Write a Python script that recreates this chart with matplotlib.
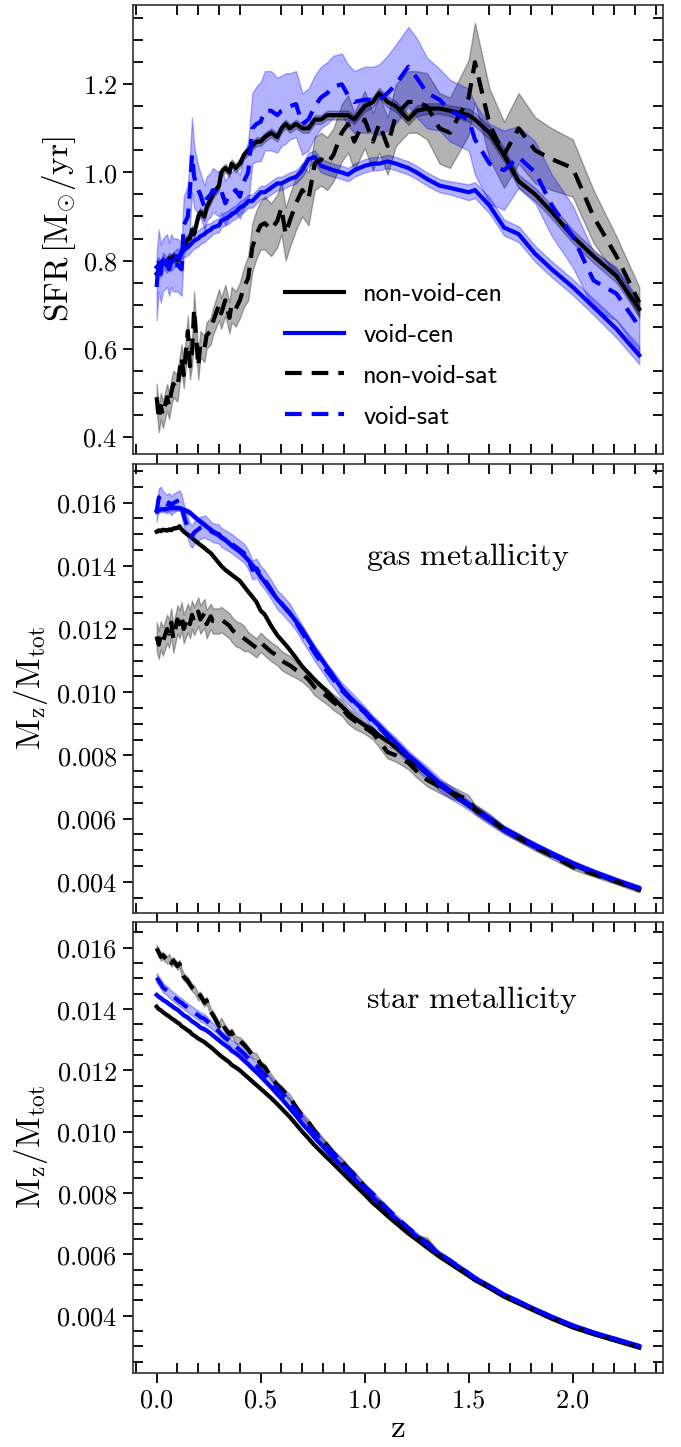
import numpy as np
import matplotlib
matplotlib.use('Agg')
import matplotlib.pyplot as plt
from matplotlib.ticker import MultipleLocator, FuncFormatter

plt.rcParams['mathtext.fontset'] = 'cm'

# ---------------- data ----------------
z = [0.00, 0.01, 0.02, 0.03, 0.05, 0.06, 0.07, 0.08, 0.10, 0.11,
     0.12, 0.13, 0.15, 0.16, 0.17, 0.18, 0.20, 0.21, 0.23, 0.24,
     0.26, 0.27, 0.30, 0.31, 0.33, 0.35, 0.36, 0.38, 0.40, 0.42,
     0.44, 0.46, 0.48, 0.50, 0.52, 0.55, 0.58, 0.60, 0.62, 0.64,
     0.67, 0.70, 0.73, 0.76, 0.79, 0.82, 0.85, 0.89, 0.92, 0.95,
     1.00, 1.04, 1.07, 1.11, 1.15, 1.21, 1.25, 1.30, 1.36, 1.41,
     1.50, 1.53, 1.60, 1.67, 1.74, 1.82, 1.90, 2.00, 2.10, 2.21, 2.32]

labels = ['non-void-cen', 'void-cen', 'non-void-sat', 'void-sat']

# SFR panel
sfr_nv_cen = [0.770, 0.775, 0.790, 0.800, 0.790, 0.805, 0.800, 0.810, 0.800, 0.810,
              0.820, 0.830, 0.850, 0.850, 0.870, 0.860, 0.900, 0.910, 0.900, 0.920,
              0.940, 0.950, 0.970, 1.000, 1.010, 1.000, 1.020, 1.010, 1.020, 1.040,
              1.050, 1.060, 1.070, 1.070, 1.080, 1.090, 1.080, 1.100, 1.110, 1.100,
              1.110, 1.100, 1.100, 1.120, 1.120, 1.130, 1.130, 1.130, 1.130, 1.120,
              1.150, 1.160, 1.180, 1.160, 1.150, 1.120, 1.140, 1.145, 1.145, 1.140,
              1.130, 1.120, 1.090, 1.040, 0.980, 0.950, 0.910, 0.855, 0.810, 0.765, 0.690]
sfr_v_cen = [0.785, 0.790, 0.780, 0.800, 0.790, 0.800, 0.795, 0.800, 0.810, 0.805,
             0.820, 0.825, 0.830, 0.835, 0.840, 0.845, 0.850, 0.855, 0.860, 0.865,
             0.870, 0.875, 0.880, 0.890, 0.895, 0.900, 0.905, 0.910, 0.920, 0.925,
             0.935, 0.935, 0.945, 0.955, 0.955, 0.965, 0.975, 0.975, 0.980, 0.985,
             0.990, 1.005, 1.030, 1.035, 1.015, 1.010, 1.005, 1.000, 0.995, 1.005,
             1.015, 1.020, 1.020, 1.025, 1.020, 1.010, 1.000, 0.985, 0.970, 0.965,
             0.955, 0.960, 0.925, 0.875, 0.860, 0.815, 0.780, 0.740, 0.695, 0.645, 0.585]
sfr_nv_sat = [0.490, 0.440, 0.470, 0.450, 0.490, 0.470, 0.500, 0.520, 0.510, 0.550,
              0.580, 0.540, 0.640, 0.560, 0.590, 0.690, 0.560, 0.610, 0.600, 0.630,
              0.640, 0.660, 0.700, 0.680, 0.710, 0.670, 0.700, 0.690, 0.710, 0.740,
              0.760, 0.830, 0.860, 0.880, 0.885, 0.870, 0.890, 0.920, 0.860, 0.890,
              0.930, 0.960, 0.940, 1.020, 1.030, 1.020, 1.040, 1.090, 1.110, 1.070,
              1.120, 1.070, 1.110, 1.060, 1.130, 1.160, 1.160, 1.150, 1.100, 1.090,
              1.170, 1.250, 1.110, 1.040, 1.100, 1.050, 1.030, 1.010, 0.900, 0.810, 0.705]
sfr_v_sat = [0.740, 0.800, 0.770, 0.790, 0.800, 0.780, 0.800, 0.790, 0.790, 0.785,
             0.780, 0.880, 0.900, 0.960, 1.040, 0.990, 0.960, 0.950, 0.920, 0.940,
             0.950, 0.960, 0.950, 0.960, 0.930, 0.950, 0.950, 0.960, 0.945, 0.980,
             1.000, 1.100, 1.110, 1.115, 1.140, 1.140, 1.130, 1.140, 1.145, 1.150,
             1.155, 1.110, 1.120, 1.150, 1.170, 1.180, 1.195, 1.200, 1.175, 1.160,
             1.165, 1.165, 1.165, 1.180, 1.200, 1.240, 1.215, 1.180, 1.165, 1.140,
             1.120, 1.075, 1.020, 1.005, 1.035, 1.000, 0.925, 0.855, 0.755, 0.725, 0.650]

err_sfr_nv_cen = [0.010, 0.010, 0.010, 0.010, 0.010, 0.010, 0.010, 0.010, 0.010, 0.010,
                  0.010, 0.010, 0.010, 0.010, 0.010, 0.010, 0.010, 0.010, 0.010, 0.010,
                  0.010, 0.010, 0.010, 0.010, 0.010, 0.010, 0.010, 0.010, 0.010, 0.010,
                  0.010, 0.010, 0.010, 0.010, 0.010, 0.010, 0.010, 0.010, 0.010, 0.010,
                  0.010, 0.010, 0.010, 0.010, 0.010, 0.010, 0.010, 0.010, 0.010, 0.010,
                  0.012, 0.012, 0.012, 0.012, 0.012, 0.012, 0.012, 0.012, 0.012, 0.012,
                  0.015, 0.015, 0.015, 0.015, 0.015, 0.015, 0.015, 0.015, 0.015, 0.015, 0.015]
err_sfr_v_cen = [0.018, 0.018, 0.018, 0.018, 0.018, 0.018, 0.018, 0.018, 0.018, 0.018,
                 0.018, 0.018, 0.018, 0.018, 0.018, 0.018, 0.018, 0.018, 0.018, 0.018,
                 0.015, 0.015, 0.015, 0.015, 0.015, 0.015, 0.015, 0.015, 0.015, 0.015,
                 0.015, 0.015, 0.015, 0.015, 0.015, 0.015, 0.015, 0.015, 0.015, 0.015,
                 0.015, 0.015, 0.015, 0.015, 0.015, 0.015, 0.015, 0.015, 0.015, 0.015,
                 0.015, 0.015, 0.015, 0.015, 0.015, 0.015, 0.015, 0.015, 0.015, 0.015,
                 0.018, 0.018, 0.018, 0.018, 0.018, 0.018, 0.018, 0.018, 0.018, 0.020, 0.020]
err_sfr_nv_sat = [0.030, 0.030, 0.030, 0.030, 0.030, 0.030, 0.030, 0.030, 0.030, 0.030,
                  0.030, 0.030, 0.035, 0.030, 0.030, 0.040, 0.030, 0.030, 0.030, 0.030,
                  0.030, 0.030, 0.035, 0.035, 0.035, 0.035, 0.040, 0.040, 0.040, 0.045,
                  0.050, 0.055, 0.055, 0.055, 0.060, 0.060, 0.060, 0.060, 0.060, 0.060,
                  0.060, 0.060, 0.060, 0.060, 0.060, 0.060, 0.060, 0.065, 0.065, 0.065,
                  0.065, 0.065, 0.065, 0.065, 0.070, 0.070, 0.070, 0.075, 0.080, 0.080,
                  0.085, 0.090, 0.080, 0.075, 0.080, 0.075, 0.070, 0.065, 0.060, 0.045, 0.035]
err_sfr_v_sat = [0.075, 0.070, 0.065, 0.060, 0.060, 0.060, 0.060, 0.060, 0.060, 0.060,
                 0.060, 0.065, 0.070, 0.080, 0.085, 0.070, 0.055, 0.050, 0.050, 0.050,
                 0.050, 0.050, 0.050, 0.050, 0.050, 0.050, 0.050, 0.050, 0.050, 0.060,
                 0.070, 0.080, 0.085, 0.090, 0.090, 0.090, 0.085, 0.080, 0.080, 0.075,
                 0.075, 0.070, 0.070, 0.070, 0.070, 0.070, 0.070, 0.070, 0.070, 0.070,
                 0.075, 0.075, 0.080, 0.085, 0.090, 0.090, 0.090, 0.080, 0.070, 0.070,
                 0.070, 0.080, 0.090, 0.090, 0.070, 0.070, 0.070, 0.070, 0.065, 0.060, 0.060]

# gas metallicity panel
gas_nv_cen = [0.01508, 0.01512, 0.01510, 0.01514, 0.01512, 0.01515, 0.01513, 0.01518, 0.01520, 0.01525,
              0.01515, 0.01508, 0.01498, 0.01494, 0.01488, 0.01482, 0.01471, 0.01466, 0.01456, 0.01450,
              0.01440, 0.01432, 0.01408, 0.01400, 0.01387, 0.01377, 0.01372, 0.01362, 0.01352, 0.01335,
              0.01318, 0.01302, 0.01285, 0.01258, 0.01245, 0.01210, 0.01180, 0.01165, 0.01150, 0.01134,
              0.01108, 0.01081, 0.01060, 0.01039, 0.01020, 0.01002, 0.00980, 0.00955, 0.00935, 0.00918,
              0.00895, 0.00880, 0.00862, 0.00845, 0.00825, 0.00792, 0.00770, 0.00742, 0.00706, 0.00683,
              0.00640, 0.00627, 0.00596, 0.00564, 0.00538, 0.00511, 0.00486, 0.00455, 0.00428, 0.00401, 0.00376]
gas_v_cen = [0.01572, 0.01575, 0.01578, 0.01578, 0.01580, 0.01582, 0.01582, 0.01583, 0.01583, 0.01582,
             0.01580, 0.01577, 0.01572, 0.01568, 0.01562, 0.01556, 0.01545, 0.01540, 0.01530, 0.01524,
             0.01514, 0.01509, 0.01496, 0.01490, 0.01482, 0.01470, 0.01464, 0.01455, 0.01445, 0.01432,
             0.01418, 0.01402, 0.01385, 0.01365, 0.01348, 0.01320, 0.01294, 0.01280, 0.01265, 0.01250,
             0.01224, 0.01197, 0.01165, 0.01134, 0.01106, 0.01078, 0.01050, 0.01012, 0.00990, 0.00970,
             0.00940, 0.00912, 0.00893, 0.00866, 0.00840, 0.00800, 0.00778, 0.00748, 0.00712, 0.00688,
             0.00645, 0.00632, 0.00600, 0.00568, 0.00543, 0.00516, 0.00490, 0.00459, 0.00432, 0.00405, 0.00380]
gas_nv_sat = [0.01176, 0.01150, 0.01180, 0.01160, 0.01200, 0.01185, 0.01220, 0.01170, 0.01230, 0.01215,
              0.01240, 0.01200, 0.01235, 0.01215, 0.01245, 0.01225, 0.01255, 0.01230, 0.01250, 0.01215,
              0.01240, 0.01225, 0.01225, 0.01230, 0.01220, 0.01210, 0.01200, 0.01185, 0.01180, 0.01170,
              0.01160, 0.01150, 0.01140, 0.01158, 0.01145, 0.01128, 0.01115, 0.01100, 0.01092, 0.01085,
              0.01070, 0.01058, 0.01040, 0.01015, 0.01000, 0.00986, 0.00968, 0.00950, 0.00925, 0.00910,
              0.00888, 0.00870, 0.00845, 0.00810, 0.00800, 0.00776, 0.00750, 0.00722, 0.00701, 0.00685,
              0.00659, 0.00630, 0.00600, 0.00565, 0.00540, 0.00508, 0.00482, 0.00447, 0.00424, 0.00400, 0.00374]
gas_v_sat = [0.01570, 0.01615, 0.01620, 0.01605, 0.01595, 0.01600, 0.01590, 0.01598, 0.01605, 0.01608,
             0.01590, 0.01560, 0.01520, 0.01500, 0.01492, 0.01505, 0.01515, 0.01520, 0.01524, 0.01520,
             0.01510, 0.01505, 0.01500, 0.01490, 0.01482, 0.01475, 0.01470, 0.01460, 0.01450, 0.01440,
             0.01420, 0.01387, 0.01392, 0.01370, 0.01355, 0.01325, 0.01292, 0.01280, 0.01265, 0.01250,
             0.01220, 0.01187, 0.01155, 0.01124, 0.01095, 0.01065, 0.01040, 0.01005, 0.00985, 0.00965,
             0.00935, 0.00905, 0.00888, 0.00860, 0.00836, 0.00795, 0.00772, 0.00745, 0.00708, 0.00684,
             0.00642, 0.00628, 0.00596, 0.00564, 0.00540, 0.00512, 0.00487, 0.00456, 0.00430, 0.00403, 0.00379]

err_gas_nv_cen = [0.00005] * 71
err_gas_v_cen = [0.00008] * 71
err_gas_nv_sat = [0.00045, 0.00045, 0.00045, 0.00045, 0.00045, 0.00045, 0.00045, 0.00045, 0.00045, 0.00045,
                  0.00045, 0.00045, 0.00045, 0.00045, 0.00045, 0.00045, 0.00045, 0.00045, 0.00045, 0.00045,
                  0.00040, 0.00040, 0.00040, 0.00040, 0.00040, 0.00040, 0.00040, 0.00040, 0.00040, 0.00040,
                  0.00030, 0.00030, 0.00030, 0.00030, 0.00030, 0.00030, 0.00030, 0.00030, 0.00030, 0.00030,
                  0.00025, 0.00025, 0.00025, 0.00025, 0.00025, 0.00025, 0.00025, 0.00025, 0.00025, 0.00025,
                  0.00020, 0.00020, 0.00020, 0.00020, 0.00020, 0.00020, 0.00020, 0.00020, 0.00020, 0.00020,
                  0.00015, 0.00015, 0.00015, 0.00012, 0.00012, 0.00010, 0.00010, 0.00008, 0.00008, 0.00008, 0.00008]
err_gas_v_sat = [0.00030, 0.00030, 0.00030, 0.00030, 0.00030, 0.00030, 0.00030, 0.00030, 0.00030, 0.00030,
                 0.00035, 0.00035, 0.00035, 0.00035, 0.00035, 0.00035, 0.00035, 0.00035, 0.00035, 0.00035,
                 0.00030, 0.00030, 0.00030, 0.00030, 0.00030, 0.00030, 0.00030, 0.00030, 0.00030, 0.00030,
                 0.00030, 0.00030, 0.00030, 0.00030, 0.00030, 0.00030, 0.00030, 0.00030, 0.00030, 0.00030,
                 0.00025, 0.00025, 0.00025, 0.00025, 0.00025, 0.00025, 0.00025, 0.00025, 0.00025, 0.00025,
                 0.00020, 0.00020, 0.00020, 0.00020, 0.00020, 0.00020, 0.00020, 0.00020, 0.00020, 0.00020,
                 0.00015, 0.00015, 0.00015, 0.00012, 0.00012, 0.00010, 0.00010, 0.00008, 0.00008, 0.00008, 0.00008]

# star metallicity panel
star_nv_cen = [0.01408, 0.01400, 0.01396, 0.01390, 0.01380, 0.01376, 0.01370, 0.01366, 0.01356, 0.01352,
               0.01344, 0.01340, 0.01330, 0.01326, 0.01318, 0.01314, 0.01304, 0.01300, 0.01292, 0.01286,
               0.01276, 0.01270, 0.01252, 0.01246, 0.01236, 0.01226, 0.01218, 0.01210, 0.01200, 0.01188,
               0.01176, 0.01164, 0.01152, 0.01140, 0.01128, 0.01110, 0.01090, 0.01076, 0.01062, 0.01048,
               0.01024, 0.01000, 0.00978, 0.00955, 0.00935, 0.00915, 0.00895, 0.00868, 0.00848, 0.00828,
               0.00795, 0.00767, 0.00750, 0.00725, 0.00702, 0.00668, 0.00648, 0.00622, 0.00592, 0.00570,
               0.00530, 0.00516, 0.00490, 0.00462, 0.00440, 0.00415, 0.00390, 0.00362, 0.00340, 0.00318, 0.00296]
star_v_cen = [0.01446, 0.01440, 0.01436, 0.01430, 0.01422, 0.01416, 0.01412, 0.01406, 0.01398, 0.01392,
              0.01386, 0.01380, 0.01372, 0.01366, 0.01360, 0.01356, 0.01346, 0.01340, 0.01334, 0.01330,
              0.01320, 0.01314, 0.01298, 0.01292, 0.01282, 0.01272, 0.01264, 0.01256, 0.01245, 0.01232,
              0.01220, 0.01206, 0.01194, 0.01180, 0.01166, 0.01145, 0.01122, 0.01108, 0.01092, 0.01076,
              0.01052, 0.01026, 0.01004, 0.00980, 0.00958, 0.00936, 0.00914, 0.00888, 0.00866, 0.00846,
              0.00812, 0.00785, 0.00766, 0.00740, 0.00716, 0.00680, 0.00659, 0.00632, 0.00600, 0.00578,
              0.00537, 0.00522, 0.00496, 0.00468, 0.00446, 0.00420, 0.00396, 0.00368, 0.00345, 0.00323, 0.00301]
star_nv_sat = [0.01598, 0.01585, 0.01570, 0.01575, 0.01560, 0.01568, 0.01550, 0.01558, 0.01540, 0.01548,
               0.01520, 0.01505, 0.01492, 0.01480, 0.01470, 0.01465, 0.01440, 0.01445, 0.01420, 0.01428,
               0.01390, 0.01382, 0.01345, 0.01360, 0.01335, 0.01318, 0.01325, 0.01300, 0.01296, 0.01284,
               0.01268, 0.01250, 0.01245, 0.01220, 0.01210, 0.01178, 0.01152, 0.01140, 0.01125, 0.01112,
               0.01080, 0.01052, 0.01030, 0.01002, 0.00978, 0.00955, 0.00930, 0.00904, 0.00880, 0.00860,
               0.00822, 0.00790, 0.00772, 0.00742, 0.00715, 0.00676, 0.00655, 0.00640, 0.00598, 0.00578,
               0.00535, 0.00522, 0.00493, 0.00465, 0.00443, 0.00418, 0.00393, 0.00364, 0.00342, 0.00320, 0.00298]
star_v_sat = [0.01502, 0.01492, 0.01482, 0.01470, 0.01460, 0.01452, 0.01446, 0.01440, 0.01430, 0.01424,
              0.01420, 0.01414, 0.01404, 0.01398, 0.01394, 0.01388, 0.01380, 0.01374, 0.01368, 0.01362,
              0.01350, 0.01344, 0.01326, 0.01318, 0.01306, 0.01296, 0.01288, 0.01278, 0.01266, 0.01254,
              0.01240, 0.01226, 0.01214, 0.01200, 0.01186, 0.01164, 0.01142, 0.01128, 0.01112, 0.01096,
              0.01072, 0.01044, 0.01020, 0.00996, 0.00972, 0.00950, 0.00928, 0.00900, 0.00878, 0.00857,
              0.00822, 0.00797, 0.00776, 0.00748, 0.00722, 0.00686, 0.00663, 0.00636, 0.00602, 0.00580,
              0.00538, 0.00523, 0.00496, 0.00468, 0.00446, 0.00420, 0.00396, 0.00367, 0.00344, 0.00322, 0.00300]

err_star_nv_cen = [0.00004] * 71
err_star_v_cen = [0.00006] * 71
err_star_nv_sat = [0.00012, 0.00012, 0.00012, 0.00012, 0.00012, 0.00012, 0.00012, 0.00012, 0.00012, 0.00012,
                   0.00012, 0.00012, 0.00012, 0.00012, 0.00012, 0.00012, 0.00012, 0.00012, 0.00012, 0.00012,
                   0.00012, 0.00012, 0.00012, 0.00012, 0.00012, 0.00012, 0.00012, 0.00012, 0.00012, 0.00012,
                   0.00010, 0.00010, 0.00010, 0.00010, 0.00010, 0.00010, 0.00010, 0.00010, 0.00010, 0.00010,
                   0.00010, 0.00010, 0.00010, 0.00010, 0.00010, 0.00010, 0.00010, 0.00010, 0.00010, 0.00010,
                   0.00008, 0.00008, 0.00008, 0.00008, 0.00008, 0.00008, 0.00008, 0.00015, 0.00008, 0.00008,
                   0.00005, 0.00005, 0.00005, 0.00005, 0.00005, 0.00005, 0.00005, 0.00005, 0.00005, 0.00005, 0.00005]
err_star_v_sat = [0.00015, 0.00015, 0.00015, 0.00015, 0.00015, 0.00015, 0.00015, 0.00015, 0.00015, 0.00015,
                  0.00015, 0.00015, 0.00015, 0.00015, 0.00015, 0.00015, 0.00015, 0.00015, 0.00015, 0.00015,
                  0.00012, 0.00012, 0.00012, 0.00012, 0.00012, 0.00012, 0.00012, 0.00012, 0.00012, 0.00012,
                  0.00012, 0.00012, 0.00012, 0.00012, 0.00012, 0.00012, 0.00012, 0.00012, 0.00012, 0.00012,
                  0.00010, 0.00010, 0.00010, 0.00010, 0.00010, 0.00010, 0.00010, 0.00010, 0.00010, 0.00010,
                  0.00008, 0.00008, 0.00008, 0.00008, 0.00008, 0.00008, 0.00008, 0.00008, 0.00008, 0.00008,
                  0.00008, 0.00008, 0.00008, 0.00008, 0.00008, 0.00008, 0.00008, 0.00008, 0.00008, 0.00008, 0.00008]

panels = [
    ([sfr_nv_cen, sfr_v_cen, sfr_nv_sat, sfr_v_sat],
     [err_sfr_nv_cen, err_sfr_v_cen, err_sfr_nv_sat, err_sfr_v_sat]),
    ([gas_nv_cen, gas_v_cen, gas_nv_sat, gas_v_sat],
     [err_gas_nv_cen, err_gas_v_cen, err_gas_nv_sat, err_gas_v_sat]),
    ([star_nv_cen, star_v_cen, star_nv_sat, star_v_sat],
     [err_star_nv_cen, err_star_v_cen, err_star_nv_sat, err_star_v_sat]),
]
for vals, errs in panels:
    for a in vals + errs:
        if len(a) != len(z):
            raise ValueError('length mismatch %d' % len(a))

# ---------------- style ----------------
colors = ['black', 'blue', 'black', 'blue']
dashed = [False, False, True, True]
LW = 3.0

fig = plt.figure(figsize=(6.81, 14.47), dpi=100)
L, W = 0.1949, 0.7783
ax1 = fig.add_axes([L, 0.68625, W, 0.3103])
ax2 = fig.add_axes([L, 0.36925, W, 0.3101])
ax3 = fig.add_axes([L, 0.05135, W, 0.3115])
axes = [ax1, ax2, ax3]

zz = np.array(z)
for ax, (vals, errs) in zip(axes, panels):
    for v, e, c, d, lab in zip(vals, errs, colors, dashed, labels):
        v = np.array(v)
        e = np.array(e)
        ax.fill_between(zz, v - e, v + e, color=c, alpha=0.3, linewidth=1.0)
        if d:
            ax.plot(zz, v, color=c, lw=LW, ls=(0, (4.0, 2.4)), label=lab)
        else:
            ax.plot(zz, v, color=c, lw=LW, label=lab)

for ax in axes:
    ax.set_xlim(-0.115, 2.433)
    ax.xaxis.set_major_locator(MultipleLocator(0.5))
    ax.xaxis.set_minor_locator(MultipleLocator(0.1))
    ax.tick_params(which='major', direction='out', length=7, width=1.3,
                   top=False, right=False, labelsize=19, pad=4)
    ax.tick_params(which='minor', direction='in', length=7, width=1.3,
                   top=True, right=True, bottom=True, left=True)
    for s in ax.spines.values():
        s.set_linewidth(1.2)
        s.set_color('0.2')

ax1.set_ylim(0.361, 1.38)
ax1.yaxis.set_major_locator(MultipleLocator(0.2))
ax1.yaxis.set_minor_locator(MultipleLocator(0.05))
ax1.yaxis.set_major_formatter(FuncFormatter(lambda v, p: r'$%.1f$' % v))

for ax, lo, hi in [(ax2, 0.00302, 0.01722), (ax3, 0.00214, 0.01684)]:
    ax.set_ylim(lo, hi)
    ax.yaxis.set_major_locator(MultipleLocator(0.002))
    ax.yaxis.set_minor_locator(MultipleLocator(0.0005))
    ax.yaxis.set_major_formatter(FuncFormatter(lambda v, p: r'$%.3f$' % v))

ax1.tick_params(axis='x', labelbottom=False)
ax2.tick_params(axis='x', labelbottom=False)
ax3.xaxis.set_major_formatter(FuncFormatter(lambda v, p: r'$%.1f$' % v))

ax1.set_ylabel(r'$\mathrm{SFR}\,[\mathrm{M_{\odot}/yr}]$', fontsize=24)
ax2.set_ylabel(r'$\mathrm{M_z/M_{tot}}$', fontsize=24)
ax3.set_ylabel(r'$\mathrm{M_z/M_{tot}}$', fontsize=24)
ax1.yaxis.set_label_coords(-0.103, 0.5)
ax2.yaxis.set_label_coords(-0.156, 0.5)
ax3.yaxis.set_label_coords(-0.156, 0.5)
ax3.set_xlabel(r'$\mathrm{z}$', fontsize=24, labelpad=-2)

ax2.text(0.44, 0.775, r'$\mathrm{gas\ metallicity}$', transform=ax2.transAxes,
         fontsize=23, ha='left', va='baseline')
ax3.text(0.44, 0.809, r'$\mathrm{star\ metallicity}$', transform=ax3.transAxes,
         fontsize=23, ha='left', va='baseline')

ax1.legend(loc='upper left', bbox_to_anchor=(0.287, 0.382), frameon=False,
           prop={'family': 'cmss10', 'size': 19}, handlelength=2.25,
           handletextpad=0.72, labelspacing=0.66, borderpad=0, borderaxespad=0)

fig.savefig('out.png', dpi=100)
